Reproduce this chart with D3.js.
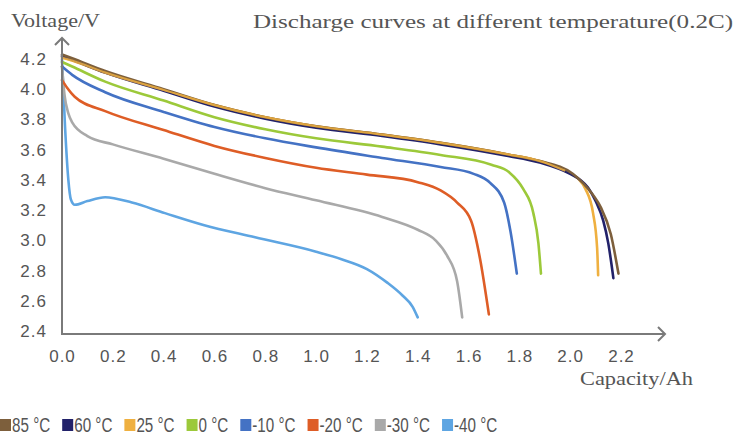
<!DOCTYPE html>
<html>
<head>
<meta charset="utf-8">
<script src="https://cdn.jsdelivr.net/npm/d3@7"></script>
<style>
  body { margin: 0; background: #fff; }
  svg { display: block; }
</style>
</head>
<body>
<svg width="736" height="439"></svg>
<script>
// data: capacity (Ah) / voltage (V)
const series = ['85 °C', '60 °C', '25 °C', '0 °C', '-10 °C', '-20 °C', '-30 °C', '-40 °C'];
const colors = ['#7d5f3c', '#22226a', '#efb040', '#9cc93a', '#4472c4', '#de5d26', '#a9a9a9', '#5ea5e2'];

const cap85 = [0, 0.04, 0.17, 0.4, 0.6, 0.8, 1.0, 1.26, 1.49, 1.75, 1.88, 2.01, 2.05, 2.09, 2.12, 2.16, 2.19];
const volt85 = [4.23, 4.205, 4.12, 4.0, 3.895, 3.815, 3.755, 3.70, 3.645, 3.57, 3.525, 3.44, 3.38, 3.30, 3.22, 3.04, 2.78];

const cap60 = [0, 0.04, 0.17, 0.4, 0.6, 0.8, 1.0, 1.26, 1.49, 1.75, 1.88, 2.0, 2.04, 2.07, 2.10, 2.13, 2.15, 2.17];
const volt60 = [4.22, 4.195, 4.11, 3.99, 3.885, 3.805, 3.745, 3.69, 3.635, 3.56, 3.515, 3.44, 3.40, 3.35, 3.26, 3.13, 2.98, 2.75];

const cap25 = [0, 0.04, 0.17, 0.4, 0.6, 0.8, 1.0, 1.26, 1.49, 1.75, 1.88, 1.98, 2.03, 2.06, 2.09, 2.106, 2.11];
const volt25 = [4.21, 4.19, 4.11, 3.995, 3.895, 3.815, 3.755, 3.70, 3.645, 3.57, 3.525, 3.46, 3.41, 3.34, 3.18, 2.95, 2.77];

const cap0 = [0, 0.04, 0.17, 0.4, 0.6, 0.8, 1.0, 1.26, 1.49, 1.69, 1.76, 1.815, 1.855, 1.875, 1.885];
const volt0 = [4.18, 4.15, 4.05, 3.925, 3.815, 3.735, 3.675, 3.62, 3.565, 3.50, 3.45, 3.34, 3.18, 2.98, 2.78];

const capM10 = [0, 0.04, 0.17, 0.4, 0.6, 0.8, 1.0, 1.26, 1.49, 1.62, 1.685, 1.74, 1.765, 1.79];
const voltM10 = [4.15, 4.095, 3.98, 3.85, 3.75, 3.675, 3.615, 3.545, 3.485, 3.44, 3.38, 3.25, 3.06, 2.78];

const capM20 = [0, 0.02, 0.05, 0.17, 0.4, 0.6, 0.8, 1.0, 1.2, 1.4, 1.49, 1.555, 1.61, 1.645, 1.68];
const voltM20 = [4.06, 4.01, 3.95, 3.855, 3.73, 3.625, 3.545, 3.48, 3.435, 3.385, 3.33, 3.25, 3.13, 2.88, 2.51];

const capM30 = [0, 0.01, 0.025, 0.04, 0.1, 0.2, 0.4, 0.6, 0.8, 1.0, 1.26, 1.4, 1.47, 1.515, 1.555, 1.575];
const voltM30 = [4.15, 3.96, 3.84, 3.78, 3.69, 3.635, 3.54, 3.44, 3.345, 3.265, 3.155, 3.07, 3.0, 2.9, 2.73, 2.49];

const capM40 = [0, 0.012, 0.025, 0.035, 0.05, 0.1, 0.17, 0.275, 0.405, 0.56, 0.76, 1.0, 1.1, 1.2, 1.28, 1.34, 1.38, 1.40];
const voltM40 = [4.2, 3.75, 3.40, 3.27, 3.235, 3.26, 3.285, 3.25, 3.18, 3.10, 3.02, 2.925, 2.875, 2.81, 2.72, 2.635, 2.56, 2.49];

const caps = [cap85, cap60, cap25, cap0, capM10, capM20, capM30, capM40];
const volts = [volt85, volt60, volt25, volt0, voltM10, voltM20, voltM30, voltM40];

const xTicks = [0, 0.2, 0.4, 0.6, 0.8, 1.0, 1.2, 1.4, 1.6, 1.8, 2.0, 2.2];
const yTicks = [2.4, 2.6, 2.8, 3.0, 3.2, 3.4, 3.6, 3.8, 4.0, 4.2];

const svg = d3.select('svg');
const axisColor = '#7a7a7a';
const textColor = '#555';

const x = d3.scaleLinear().domain([0, 2.2]).range([62, 621]);
const y = d3.scaleLinear().domain([2.4, 4.2]).range([331, 59]);
const axisY = 334;   // where the x axis line sits

// tick labels
const gy = svg.append('g')
	.attr('transform', 'translate(62,0)')
	.call(d3.axisLeft(y).tickValues(yTicks).tickSize(0).tickPadding(15).tickFormat(d3.format('.1f')));
const gx = svg.append('g')
	.attr('transform', 'translate(0,' + axisY + ')')
	.call(d3.axisBottom(x).tickValues(xTicks).tickSize(0).tickPadding(16).tickFormat(d3.format('.1f')));

[gx, gy].forEach(g => {
	g.select('.domain').remove();
	g.selectAll('text')
		.attr('fill', textColor)
		.style('font-family', '"Liberation Sans", Arial, sans-serif')
		.style('font-size', '17px')
		.style('letter-spacing', '1px');
});

// curves
const line = d3.line()
	.x(d => x(d[0]))
	.y(d => y(d[1]))
	.curve(d3.curveMonotoneX);

// draw back to front so 85 °C ends up above the others like in the picture
for (let i = series.length - 1; i >= 0; i--) {
	const pts = d3.zip(caps[i], volts[i]);
	svg.append('path')
		.attr('d', line(pts))
		.attr('fill', 'none')
		.attr('stroke', colors[i])
		.attr('stroke-width', 2.6)
		.attr('stroke-linecap', 'round');
}
// 25 °C is drawn on top of the dark ones in the flat part
svg.append('path')
	.attr('d', line(d3.zip(caps[2], volts[2]).slice(0, 12)))
	.attr('fill', 'none')
	.attr('stroke', colors[2])
	.attr('stroke-width', 2.2)
	.attr('opacity', 0.85);

// axes with arrows
svg.append('line')
	.attr('x1', 62).attr('y1', axisY + 1)
	.attr('x2', 62).attr('y2', 38)
	.attr('stroke', axisColor).attr('stroke-width', 2);
svg.append('path')
	.attr('d', 'M55,45 L62,38 L69,45')
	.attr('fill', 'none').attr('stroke', axisColor).attr('stroke-width', 2);
svg.append('line')
	.attr('x1', 61).attr('y1', axisY)
	.attr('x2', 665).attr('y2', axisY)
	.attr('stroke', axisColor).attr('stroke-width', 2);
svg.append('path')
	.attr('d', 'M658,327 L665,334 L658,341')
	.attr('fill', 'none').attr('stroke', axisColor).attr('stroke-width', 2);

// titles
const serif = '"Liberation Serif", "DejaVu Serif", serif';
function serifText(tx, ty, len, str) {
	svg.append('text')
		.attr('x', tx).attr('y', ty)
		.attr('textLength', len)
		.attr('lengthAdjust', 'spacingAndGlyphs')
		.attr('font-family', serif).attr('font-size', 19)
		.attr('fill', textColor)
		.text(str);
}
serifText(11, 27, 89, 'Voltage/V');
serifText(253, 28, 480, 'Discharge curves at different temperature(0.2C)');
serifText(580, 385, 113, 'Capacity/Ah');

// legend
const legend = svg.append('g').attr('transform', 'translate(0,425)');
let lx = 0;
series.forEach((name, i) => {
	const item = legend.append('g').attr('transform', 'translate(' + lx + ',0)');
	item.append('rect')
		.attr('x', 0).attr('y', -6)
		.attr('width', 11).attr('height', 12)
		.attr('fill', colors[i]);
	const t = item.append('text')
		.attr('x', 12).attr('dy', '0.36em')
		.attr('font-family', '"Liberation Sans", Arial, sans-serif')
		.attr('font-size', 20)
		.attr('fill', textColor)
		.text(name);
	const w = t.node().getComputedTextLength() * 0.76;
	t.attr('textLength', w).attr('lengthAdjust', 'spacingAndGlyphs');
	lx += 12 + w + 12;
});
</script>
</body>
</html>
